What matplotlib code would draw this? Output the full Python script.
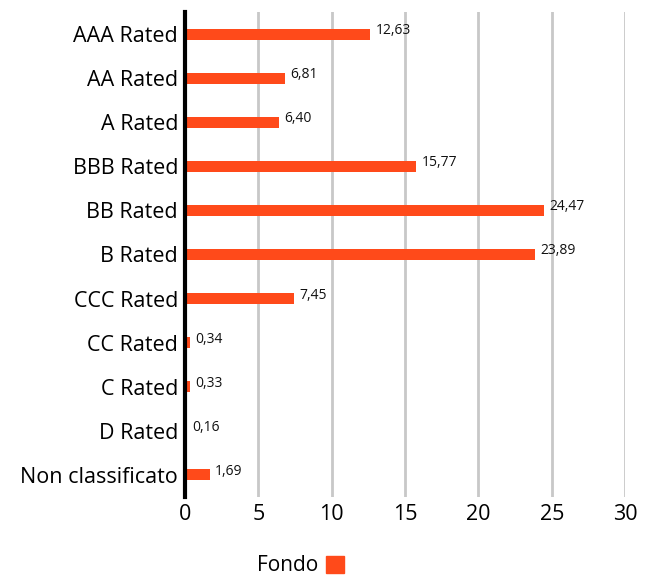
import numpy as np
import matplotlib.pyplot as plt
from matplotlib.patches import Patch

# ratings breakdown
categories = ["AAA Rated", "AA Rated", "A Rated", "BBB Rated", "BB Rated", "B Rated",
              "CCC Rated", "CC Rated", "C Rated", "D Rated", "Non classificato"]
fondo = [12.63, 6.81, 6.40, 15.77, 24.47, 23.89, 7.45, 0.34, 0.33, 0.16, 1.69]
xticks = [0, 5, 10, 15, 20, 25, 30]

bar_color = "#FF4A1A"
plt.rcParams['font.family'] = ['Open Sans', 'DejaVu Sans']

fig = plt.figure(figsize=(6.53, 5.79), dpi=100)
ax = fig.add_axes([0.2833, 0.142, 0.674, 0.837])

y = np.arange(len(categories))
ax.barh(y, fondo, height=0.25, color=bar_color, zorder=3)
for yi, v in zip(y, fondo):
    ax.text(v + 0.35, yi - 0.08, f"{v:.2f}".replace(".", ","), fontsize=10,
            va="center", ha="left", color="#111111")

ax.set_ylim(len(categories) - 0.5, -0.5)
ax.set_xlim(0, 30)
ax.set_yticks(y)
ax.set_yticklabels(categories, fontsize=15.5)
ax.set_xticks(xticks)
ax.set_xticklabels([str(t) for t in xticks], fontsize=15.5)
ax.tick_params(length=0, pad=5)

for t in xticks[1:]:
    ax.axvline(t, color="#c8c8c8", lw=2, zorder=1)
for s in ["top", "right", "bottom"]:
    ax.spines[s].set_visible(False)
ax.spines["left"].set_linewidth(3)
ax.spines["left"].set_zorder(4)

fig.legend(handles=[Patch(color=bar_color, label="Fondo")], loc="lower center",
           bbox_to_anchor=(0.46, -0.028), frameon=False, markerfirst=False,
           fontsize=15, handlelength=0.85, handleheight=0.85, handletextpad=0.4)

fig.savefig("out.png")
